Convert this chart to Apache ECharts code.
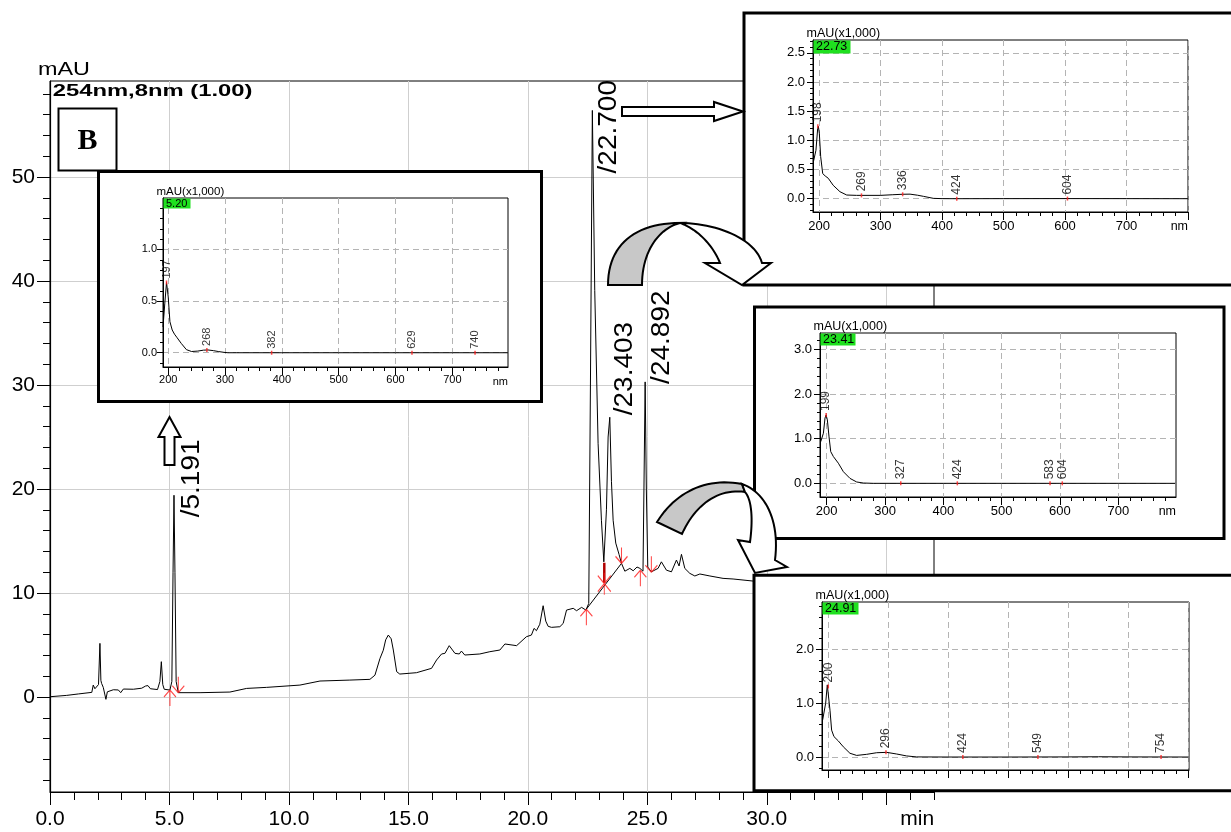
<!DOCTYPE html>
<html>
<head>
<meta charset="utf-8">
<script src="https://cdn.jsdelivr.net/npm/echarts@6.0.0/dist/echarts.min.js"></script>
<style>
html,body{margin:0;padding:0;background:#ffffff;}
#chart{width:1231px;height:832px;}
</style>
</head>
<body>
<div id="chart"></div>
<script>
// ================= DATA =================
// Chromatogram 254nm: [time (min), absorbance (mAU)]
const chromatogram = [
  [0.00,0.03],[0.70,0.16],[1.20,0.30],[1.75,0.45],[1.81,1.15],[1.88,0.80],[1.95,0.74],[2.03,1.2],[2.09,5.16],
  [2.13,1.6],[2.16,1.31],[2.23,0.93],[2.30,0.2],[2.34,-0.22],[2.40,0.5],[2.44,0.67],[2.65,0.70],[2.86,0.68],
  [2.96,0.42],[3.07,0.77],[3.49,0.75],[3.84,0.85],[4.00,1.06],[4.10,1.1],[4.20,0.80],[4.50,0.72],[4.60,1.5],
  [4.66,3.4],[4.72,1.2],[4.78,0.75],[5.02,0.67],[5.10,1.5],[5.15,12],[5.19,19.4],[5.23,12],[5.28,1.5],
  [5.37,0.42],[5.44,0.35],[6.28,0.42],[7.53,0.48],[8.23,0.83],[9.07,0.93],[10.46,1.15],[11.30,1.54],
  [12.55,1.63],[13.39,1.7],[13.60,2.1],[13.81,3.7],[13.95,4.5],[14.05,5.5],[14.16,5.96],[14.28,5.6],
  [14.37,4.52],[14.51,2.44],[14.64,2.21],[15.34,2.34],[15.97,2.76],[16.18,3.56],[16.39,4.14],[16.53,4.2],
  [16.71,4.94],[16.95,4.2],[17.13,4.14],[17.22,4.42],[17.36,4.04],[17.99,4.14],[18.41,4.36],[18.83,4.52],
  [19.04,5.1],[19.53,4.94],[19.94,5.8],[20.15,5.96],[20.26,6.6],[20.36,6.38],[20.50,7.0],[20.64,8.78],
  [20.75,7.3],[20.85,6.8],[20.99,6.7],[21.34,6.76],[21.48,7.08],[21.62,8.36],[21.69,8.53],[21.90,8.53],
  [22.04,8.3],[22.25,8.62],[22.43,8.36],[22.55,9.0],[22.62,30],[22.70,56.4],[22.80,39.1],[22.94,24.4],
  [23.08,17.0],[23.18,13.0],[23.29,18.0],[23.36,25.0],[23.43,26.9],[23.50,20.7],[23.57,17.0],[23.68,14.8],
  [23.82,13.7],[23.92,12.85],[24.06,12.1],[24.27,12.37],[24.41,12.14],[24.57,12.5],[24.69,12.37],[24.82,12.1],
  [24.86,20],[24.91,30.3],[24.96,20],[25.02,12.5],[25.17,12.04],[25.45,12.37],[25.59,13.0],[25.80,12.2],
  [26.01,12.04],[26.08,12.2],[26.22,13.17],[26.33,12.6],[26.43,13.72],[26.57,12.37],[26.78,11.89],
  [26.99,11.64],[27.20,11.83],[27.62,11.64],[28.17,11.41],[28.59,11.35],[29.43,11.15],[30.5,11.0]
];
const peakApex   = [[5.19,19.4],[22.70,56.4],[23.43,26.9],[24.91,30.3]];
const peakLabels = ['/5.191','/22.700','/23.403','/24.892'];
const upMarks    = [[5.02,0.67],[22.45,8.45],[24.71,12.2]];
const downMarks  = [[5.37,0.42],[23.92,12.85],[25.17,12.0]];
const crossMarks = [[23.2,10.9]];
const baselineSeg = [[22.45,8.45],[23.92,12.85]];
const dropLine    = [[23.2,12.9],[23.2,11.0]];

const timeMajorTicks  = [0,5,10,15,20,25,30,35];
const timeLabelValues = [0,5,10,15,20,25,30,36.3];
const timeMinorTicks  = [1,2,3,4,6,7,8,9,11,12,13,14,16,17,18,19,21,22,23,24,26,27,28,29,31,32,33,34,36,37];
const mauMajorTicks   = [0,10,20,30,40,50];
const mauMinorTicks   = [-8,-6,-4,-2,2,4,6,8,12,14,16,18,22,24,26,28,32,34,36,38,42,44,46,48,52,54,56,58];

// UV spectra: [wavelength (nm), absorbance (mAU x1,000)]
const spectrumTitles = ['5.20','22.73','23.41','24.91'];
const spectrum520 = [[190.8,0.25],[194,0.48],[197,0.68],[200,0.54],[203,0.30],[207,0.22],[211,0.18],[215,0.15],
  [223,0.09],[232,0.03],[241,0.012],[252,0.016],[262,0.025],[270,0.027],[280,0.02],[288,0.012],[298,0.004],
  [305,0],[320,0],[400,0],[500,0],[600,0],[700,0],[798,0]];
const spectrum2273 = [[190.8,0.63],[192,0.6],[195,0.83],[197.8,1.2],[198.9,1.24],[200.5,1.12],[202.7,0.72],
  [206,0.43],[210,0.39],[215,0.35],[223,0.23],[234,0.12],[245,0.063],[261,0.057],[269,0.057],[300,0.057],
  [320,0.068],[336,0.076],[348,0.078],[360,0.06],[370,0.04],[386,0.006],[400,0.001],[424,0],[500,0.001],
  [600,0.002],[700,0.001],[800,0]];
const spectrum2341 = [[189.7,0.93],[191.4,0.91],[194.3,1.12],[197.1,1.46],[198.9,1.53],[201.1,1.42],[204,1.04],
  [206.9,0.71],[211.4,0.6],[220,0.45],[228.6,0.26],[240,0.11],[251.4,0.03],[262.9,0.007],[280,0],[400,0],
  [500,0],[600,0],[700,0],[798,0]];
const spectrum2491 = [[190.6,0.69],[192.8,0.67],[195.6,1.0],[198.3,1.34],[200,1.31],[202.8,0.87],[205.5,0.5],
  [209.4,0.38],[216.6,0.3],[225,0.19],[236,0.07],[247.2,0.03],[263.8,0.05],[280.5,0.08],[297.1,0.087],
  [313.8,0.056],[330.4,0.02],[347,0.002],[400,0],[500,0],[600,0.002],[650,0.005],[700,0.002],[800,0]];
const peaks520  = [[197,0.68],[268,0.027],[382,0],[629,0],[740,0]];
const peaks2273 = [[198,1.24],[269,0.057],[336,0.076],[424,0],[604,0.002]];
const peaks2341 = [[199,1.53],[327,0],[424,0],[583,0],[604,0]];
const peaks2491 = [[200,1.31],[296,0.087],[424,0],[549,0.001],[754,0.001]];

const nmMajorTicks  = [200,300,400,500,600,700,800];
const nmLabelValues = [200,300,400,500,600,700];
const nmMinorTicks  = [220,240,260,280,320,340,360,380,420,440,460,480,520,540,560,580,620,640,660,680,720,740,760,780];
const absMajor520  = [0,0.5,1.0];
const absMinor520  = [-0.1,0.1,0.2,0.3,0.4,0.6,0.7,0.8,0.9,1.1,1.2,1.3,1.4];
const absMajor2273 = [0,0.5,1.0,1.5,2.0,2.5];
const absMinor2273 = [-0.2,-0.1,0.1,0.2,0.3,0.4,0.6,0.7,0.8,0.9,1.1,1.2,1.3,1.4,1.6,1.7,1.8,1.9,2.1,2.2,2.3,2.4,2.6,2.7];
const absMajor2341 = [0,1,2,3];
const absMinor2341 = [-0.2,0.2,0.4,0.6,0.8,1.2,1.4,1.6,1.8,2.2,2.4,2.6,2.8,3.2];
const absMajor2491 = [0,1,2];
const absMinor2491 = [-0.2,0.2,0.4,0.6,0.8,1.2,1.4,1.6,1.8,2.2,2.4,2.6,2.8];

// ================= LAYOUT / STYLE =================
const FONT = "'Liberation Sans', Arial, Helvetica, sans-serif";
const MAIN = {left:50, top:81, width:884, height:711, x:[0,37], y:[-9.13,59.23]};
const INSETS = [
  {box:[98.5,171.5,443,230], plot:{left:163,top:198,width:345,height:169}, x:[190.8,798], y:[-0.138,1.498], font:11, showX:true, green:[27,10],
   spec:spectrum520, peaks:peaks520, yMajor:absMajor520, yMinor:absMinor520},
  {box:[744,13,600,272], plot:{left:813,top:40,width:375,height:172}, x:[190.2,800], y:[-0.228,2.72], font:13, showX:true, green:[37,13],
   spec:spectrum2273, peaks:peaks2273, yMajor:absMajor2273, yMinor:absMinor2273},
  {box:[754.5,307,469.5,231.5], plot:{left:820,top:333,width:356,height:164}, x:[188.5,799], y:[-0.306,3.365], font:13, showX:true, green:[35,12],
   spec:spectrum2341, peaks:peaks2341, yMajor:absMajor2341, yMinor:absMinor2341},
  {box:[754,575.3,600,215.5], plot:{left:822,top:602,width:367,height:168}, x:[189.5,800.5], y:[-0.241,2.88], font:13, showX:false, green:[36,12],
   spec:spectrum2491, peaks:peaks2491, yMajor:absMajor2491, yMinor:absMinor2491}
];
const peakLabelOffsets = [[18,22],[17,63],[15,-2],[17,2]];

const within = (arr, r) => arr.filter(v => v >= r[0] - 1e-9 && v <= r[1] + 1e-9);

function axisPair(dim, gi, range, major, labels, minor, o) {
  const pos = dim === 'x' ? 'bottom' : 'left';
  const majorAxis = {
    type:'value', gridIndex:gi, min:range[0], max:range[1], position:pos, z:o.z,
    axisLine:{show:true, onZero:false, lineStyle:{color:'#000', width:o.lineW}},
    axisTick:{show:true, customValues:within(major, range), length:o.majorLen, lineStyle:{color:'#000', width:1}},
    axisLabel:{show:o.showLabels, customValues:within(labels, range), formatter:o.fmt, fontSize:o.font,
               fontFamily:FONT, color:'#000', margin:o.margin, hideOverlap:false},
    splitLine:{show:true, lineStyle:o.split},
    minorTick:{show:false}, minorSplitLine:{show:false}
  };
  const minorAxis = {
    type:'value', gridIndex:gi, min:range[0], max:range[1], position:pos, z:o.z,
    axisLine:{show:false, onZero:false},
    axisTick:{show:true, customValues:within(minor, range), length:o.minorLen, lineStyle:{color:'#000', width:1}},
    axisLabel:{show:false}, splitLine:{show:false}
  };
  return [majorAxis, minorAxis];
}

const grids = [{left:MAIN.left, top:MAIN.top, width:MAIN.width, height:MAIN.height, show:true,
  borderColor:'#000', borderWidth:1, backgroundColor:'transparent', z:0, containLabel:false, outerBoundsMode:'none'}];
const xAxes = [], yAxes = [];
xAxes.push(...axisPair('x', 0, MAIN.x, timeMajorTicks, timeLabelValues, timeMinorTicks,
  {z:0, lineW:1.2, majorLen:13, minorLen:8, showLabels:true, font:21, margin:17,
   fmt:v => v > 35 ? 'min' : v.toFixed(1), split:{color:'#cfcfcf', width:1}}));
yAxes.push(...axisPair('y', 0, MAIN.y, mauMajorTicks, mauMajorTicks, mauMinorTicks,
  {z:0, lineW:1.2, majorLen:13, minorLen:7, showLabels:true, font:21, margin:15,
   fmt:v => String(v), split:{color:'#cfcfcf', width:1}}));

const DASH = {color:'#b4b4b4', width:1, type:[6,4]};
INSETS.forEach((ins, i) => {
  const gi = i + 1;
  grids.push({left:ins.plot.left, top:ins.plot.top, width:ins.plot.width, height:ins.plot.height, show:true,
    borderColor:'#000', borderWidth:1, backgroundColor:'transparent', z:11, containLabel:false, outerBoundsMode:'none'});
  xAxes.push(...axisPair('x', gi, ins.x, nmMajorTicks, nmLabelValues, nmMinorTicks,
    {z:12, lineW:1, majorLen:8, minorLen:4, showLabels:ins.showX, font:ins.font, margin:ins.font === 11 ? 7 : 8,
     fmt:v => String(v), split:DASH}));
  yAxes.push(...axisPair('y', gi, ins.y, ins.yMajor, ins.yMajor, ins.yMinor,
    {z:12, lineW:1, majorLen:6, minorLen:3, showLabels:true, font:ins.font, margin:ins.font === 11 ? 6 : 8,
     fmt:v => v.toFixed(1), split:DASH}));
});

const UP_PATH    = 'path://M6,0L6,16M6,0L0,7M6,0L12,7';
const DOWN_PATH  = 'path://M6,16L6,0M6,16L0,9M6,16L12,9';
const CROSS_PATH = 'path://M0,3L12,19M12,3L0,19M6,0L6,22';
const RED = '#ff1a1a';

const series = [
  {id:'chrom', type:'line', xAxisIndex:0, yAxisIndex:0, data:chromatogram, symbol:'none',
   lineStyle:{color:'#000', width:1}, z:3, silent:true, emphasis:{disabled:true}},
  {type:'line', xAxisIndex:0, yAxisIndex:0, data:baselineSeg, symbol:'none',
   lineStyle:{color:'#000', width:1}, z:3, silent:true},
  {type:'line', xAxisIndex:0, yAxisIndex:0, data:dropLine, symbol:'none',
   lineStyle:{color:'#b00000', width:2.5}, z:4, silent:true},
  {type:'scatter', xAxisIndex:0, yAxisIndex:0, data:upMarks, symbol:UP_PATH, symbolSize:[12,16], symbolOffset:[0,8],
   itemStyle:{color:'rgba(0,0,0,0)', borderColor:RED, borderWidth:1.2}, z:5, silent:true},
  {type:'scatter', xAxisIndex:0, yAxisIndex:0, data:downMarks, symbol:DOWN_PATH, symbolSize:[12,16], symbolOffset:[0,-8],
   itemStyle:{color:'rgba(0,0,0,0)', borderColor:RED, borderWidth:1.2}, z:5, silent:true},
  {type:'scatter', xAxisIndex:0, yAxisIndex:0, data:crossMarks, symbol:CROSS_PATH, symbolSize:[13,22],
   itemStyle:{color:'rgba(0,0,0,0)', borderColor:RED, borderWidth:1.2}, z:5, silent:true}
];
INSETS.forEach((ins, i) => {
  const ai = 2 + 2 * i;
  series.push({type:'line', xAxisIndex:ai, yAxisIndex:ai, data:ins.spec, symbol:'none',
    lineStyle:{color:'#000', width:1}, z:13, silent:true});
  series.push({type:'scatter', xAxisIndex:ai, yAxisIndex:ai, data:ins.peaks, symbol:'rect', symbolSize:[1.5,4],
    itemStyle:{color:RED}, z:14, silent:true,
    label:{show:true, formatter:p => String(p.value[0]), position:'top', distance:2, rotate:90,
           align:'left', verticalAlign:'middle', fontSize:ins.font === 11 ? 11 : 12, fontFamily:FONT, color:'#000'}});
});

function cubic(p0, p1, p2, p3, n) {
  const pts = [];
  for (let k = 0; k <= n; k++) {
    const t = k / n, u = 1 - t;
    pts.push([u*u*u*p0[0] + 3*u*u*t*p1[0] + 3*u*t*t*p2[0] + t*t*t*p3[0],
              u*u*u*p0[1] + 3*u*u*t*p1[1] + 3*u*t*t*p2[1] + t*t*t*p3[1]]);
  }
  return pts;
}
const txt = (id, x, y, text, font, align, vAlign, extra) => Object.assign({
  id, type:'text', x, y, silent:true,
  style:{text, font, fill:'#000', textAlign:align, align:align, textVerticalAlign:vAlign, verticalAlign:vAlign}
}, extra || {});

const graphics = [];
graphics.push(txt('mau', 38, 70, 'mAU', `18px ${FONT}`, 'left', 'middle', {scaleX:1.3, z:6}));
graphics.push(txt('title', 52.7, 91.5, '254nm,8nm (1.00)', `bold 17px ${FONT}`, 'left', 'middle', {scaleX:1.4, z:6}));
graphics.push({id:'bBox', type:'rect', shape:{x:58.5, y:108.5, width:58, height:62}, silent:true,
  style:{fill:'#fff', stroke:'#000', lineWidth:2}, z:5});
graphics.push(txt('bText', 87.5, 141, 'B', "bold 30px 'Liberation Serif', 'Times New Roman', serif", 'center', 'middle', {z:6}));

INSETS.forEach((ins, i) => {
  const b = ins.box, p = ins.plot;
  graphics.push({id:'box' + i, type:'rect', shape:{x:b[0], y:b[1], width:b[2], height:b[3]}, silent:true,
    style:{fill:'#fff', stroke:'#000', lineWidth:3}, z:10});
  graphics.push({id:'green' + i, type:'rect', shape:{x:p.left + 0.5, y:p.top + 0.5, width:ins.green[0], height:ins.green[1]}, silent:true,
    style:{fill:'#1fe01f'}, z:15});
  const fs = ins.font === 11 ? 11 : 12.5;
  graphics.push(txt('gt' + i, p.left + 3, p.top + 0.5 + ins.green[1] / 2, spectrumTitles[i], `${fs}px ${FONT}`, 'left', 'middle', {z:16}));
  graphics.push(txt('mt' + i, p.left - 6.5, p.top - 6.5, 'mAU(x1,000)', `${ins.font === 11 ? 11.5 : 12.5}px ${FONT}`, 'left', 'middle', {z:16}));
  if (ins.showX) {
    graphics.push(txt('nm' + i, p.left + p.width, p.top + p.height + 15, 'nm', `${ins.font === 11 ? 11 : 12.5}px ${FONT}`, 'right', 'middle', {z:16}));
  }
});

// decorative arrows
const arrowStyleW = {fill:'#fff', stroke:'#000', lineWidth:2};
graphics.push({id:'upArrow', type:'polygon', silent:true, z:20, style:arrowStyleW,
  shape:{points:[[169.5,417],[180.5,437],[174.5,437],[174.5,465],[164.5,465],[164.5,437],[158.5,437]]}});
graphics.push({id:'rightArrow', type:'polygon', silent:true, z:20, style:arrowStyleW,
  shape:{points:[[622,107],[714,107],[714,102],[743,111.5],[714,121],[714,116],[622,116]]}});
graphics.push({id:'c1gray', type:'polygon', silent:true, z:20, style:{fill:'#c8c8c8', stroke:'#000', lineWidth:2},
  shape:{points:[...cubic([608,285],[608,245],[635,223],[680,223],24), ...cubic([680,223],[660,228],[642,250],[642,285],24)]}});
graphics.push({id:'c1white', type:'polygon', silent:true, z:21, style:arrowStyleW,
  shape:{points:[...cubic([680,223],[715,223],[755,238],[762,263],24), [771,263],[742,285],[705,263],[720,263],
                 ...cubic([720,263],[712,243],[695,228],[680,223],24)]}});
graphics.push({id:'c2gray', type:'polygon', silent:true, z:20, style:{fill:'#c8c8c8', stroke:'#000', lineWidth:2},
  shape:{points:[...cubic([657,522],[675,493],[705,477],[742,484],24), [745,492], ...cubic([745,492],[718,488],[695,505],[682,534],24)]}});
graphics.push({id:'c2white', type:'polygon', silent:true, z:21, style:arrowStyleW,
  shape:{points:[...cubic([742,484],[765,492],[780,520],[775,560],24), [787,567],[755,573],[738,540],[750,542],
                 ...cubic([750,542],[753,520],[752,500],[745,492],24)]}});

const option = {
  animation:false,
  backgroundColor:'#ffffff',
  grid:grids,
  xAxis:xAxes,
  yAxis:yAxes,
  series:series,
  graphic:{elements:graphics}
};

const chart = echarts.init(document.getElementById('chart'), null, {renderer:'canvas', width:1231, height:832});
chart.setOption(option);

// retention-time labels anchored at the peak apexes through the chart's own scales
const peakTexts = peakApex.map((pt, i) => {
  const px = chart.convertToPixel({seriesIndex:0}, pt);
  return txt('pk' + i, px[0] + peakLabelOffsets[i][0], px[1] + peakLabelOffsets[i][1], peakLabels[i],
    `25px ${FONT}`, 'left', 'middle', {rotation:Math.PI / 2, scaleX:1.12, z:8});
});
chart.setOption({graphic:{elements:peakTexts}});
</script>
</body>
</html>
